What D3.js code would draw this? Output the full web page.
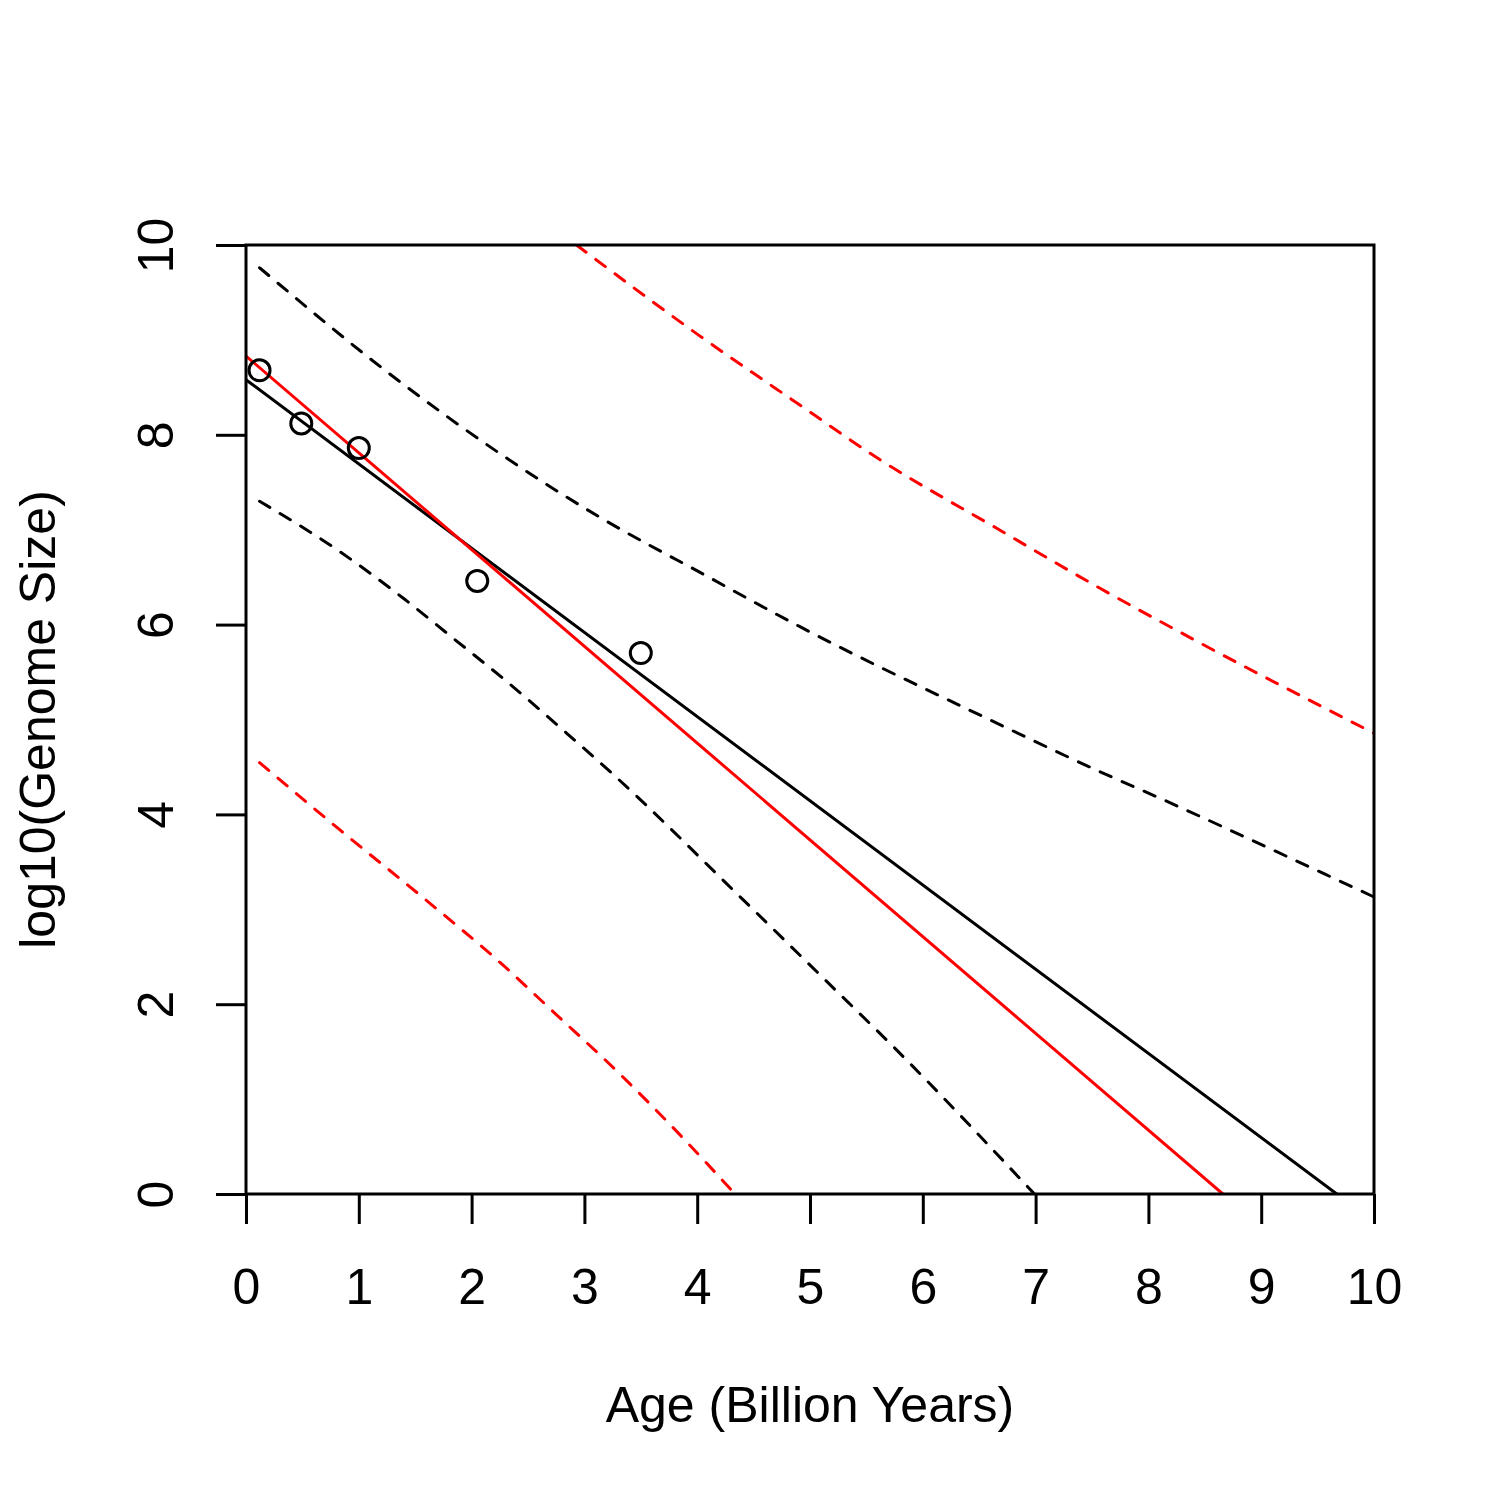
<!DOCTYPE html>
<html>
<head>
<meta charset="utf-8">
<script src="https://cdn.jsdelivr.net/npm/d3@7"></script>
<style>
	body { margin: 0; background: #fff; }
	text { font-family: "Liberation Sans", Arial, sans-serif; fill: #000; }
</style>
</head>
<body>
<svg width="1500" height="1500"></svg>
<script>
// Genome size vs age: observed points, two fits and their bands

var x_ticks = [0, 1, 2, 3, 4, 5, 6, 7, 8, 9, 10];
var y_ticks = [0, 2, 4, 6, 8, 10];

// observed points
var obs_age = [0.12, 0.49, 1.0, 2.05, 3.5];
var obs_size = [8.68, 8.12, 7.86, 6.46, 5.70];

// black fit line and its dashed band
var fit_black_x = [0, 9.67];
var fit_black_y = [8.58, 0];
var band_black_hi_x = [0.12, 1.365, 3.153, 4.025, 4.911, 6.566, 7.571, 8.103, 9.566, 10];
var band_black_hi_y = [9.76, 8.559, 7.12, 6.55, 5.978, 5.013, 4.45, 4.17, 3.37, 3.13];
var band_black_lo_x = [0.12, 0.833, 1.395, 1.838, 2.296, 2.843, 3.256, 4.379, 5.148, 5.739, 6.99];
var band_black_lo_y = [7.30, 6.768, 6.277, 5.855, 5.416, 4.855, 4.42, 3.133, 2.24, 1.552, 0];

// red fit line and its dashed band
var fit_red_x = [0, 8.66];
var fit_red_y = [8.83, 0];
var band_red_hi_x = [2.93, 4.025, 4.91, 5.608, 6.655, 7.571, 8.398, 10];
var band_red_hi_y = [10.0, 9.04, 8.314, 7.747, 7.015, 6.383, 5.845, 4.855];
var band_red_lo_x = [0.12, 0.833, 1.572, 2.252, 2.724, 3.31, 3.85, 4.335];
var band_red_lo_y = [4.545, 3.836, 3.12, 2.44, 1.92, 1.27, 0.62, 0];


function zip(xs, ys){
	return xs.map((v, i) => ({x: v, y: ys[i]}));
}

function draw(){
	var svg_handle = d3.select("svg");
	var left = 246, top = 245, right = 1374, bottom = 1194;
	var font_px = 50;

	var x = d3.scaleLinear().domain([0, 10]).range([left, right]);
	var y = d3.scaleLinear().domain([0, 10]).range([bottom, top]);

	svg_handle.append("clipPath")
		.attr("id", "plot_clip")
		.append("rect")
		.attr("x", left).attr("y", top)
		.attr("width", right - left).attr("height", bottom - top);

	var plot = svg_handle.append("g")
		.attr("clip-path", "url(#plot_clip)");

	var line = d3.line()
		.x(d => x(d.x))
		.y(d => y(d.y))
		.curve(d3.curveMonotoneX);

	var series = [
		{data: zip(band_red_hi_x, band_red_hi_y), color: "#ff0000", dash: true},
		{data: zip(band_red_lo_x, band_red_lo_y), color: "#ff0000", dash: true},
		{data: zip(band_black_hi_x, band_black_hi_y), color: "#000", dash: true},
		{data: zip(band_black_lo_x, band_black_lo_y), color: "#000", dash: true},
		{data: zip(fit_black_x, fit_black_y), color: "#000", dash: false},
		{data: zip(fit_red_x, fit_red_y), color: "#ff0000", dash: false}
	];

	plot.selectAll("path.series")
		.data(series)
		.enter().append("path")
		.attr("class", "series")
		.attr("d", s => line(s.data))
		.attr("fill", "none")
		.attr("stroke", s => s.color)
		.attr("stroke-width", 3)
		.attr("stroke-linecap", "round")
		.attr("stroke-dasharray", s => s.dash ? "12,12" : null);

	plot.selectAll("circle")
		.data(zip(obs_age, obs_size))
		.enter().append("circle")
		.attr("cx", d => x(d.x))
		.attr("cy", d => y(d.y))
		.attr("r", 10.5)
		.attr("fill", "none")
		.attr("stroke", "#000")
		.attr("stroke-width", 3);

	// axes, R style
	var x_axis = svg_handle.append("g")
		.attr("transform", "translate(0," + bottom + ")")
		.call(d3.axisBottom(x).tickValues(x_ticks).tickSize(30).tickSizeOuter(0).tickFormat(d3.format("d")));
	x_axis.select(".domain").remove();
	x_axis.selectAll("line").attr("stroke", "#000").attr("stroke-width", 3);
	x_axis.selectAll("text")
		.attr("y", 110)
		.attr("dy", null)
		.attr("font-size", font_px)
		.attr("font-family", null);

	var y_axis = svg_handle.append("g")
		.attr("transform", "translate(" + left + ",0)")
		.call(d3.axisLeft(y).tickValues(y_ticks).tickSize(30).tickSizeOuter(0).tickFormat(d3.format("d")));
	y_axis.select(".domain").remove();
	y_axis.selectAll("line").attr("stroke", "#000").attr("stroke-width", 3);
	y_axis.selectAll("text")
		.attr("x", 0)
		.attr("y", -73)
		.attr("dy", null)
		.attr("transform", "rotate(-90)")
		.attr("text-anchor", "middle")
		.attr("font-size", font_px)
		.attr("font-family", null);

	svg_handle.append("rect")
		.attr("x", left).attr("y", top)
		.attr("width", right - left).attr("height", bottom - top)
		.attr("fill", "none")
		.attr("stroke", "#000")
		.attr("stroke-width", 3);

	svg_handle.append("text")
		.attr("x", (left + right) / 2)
		.attr("y", 1422)
		.attr("text-anchor", "middle")
		.attr("font-size", font_px)
		.text("Age (Billion Years)");

	svg_handle.append("text")
		.attr("transform", "translate(55," + ((top + bottom) / 2) + ") rotate(-90)")
		.attr("text-anchor", "middle")
		.attr("font-size", font_px)
		.text("log10(Genome Size)");
}

draw();
</script>
</body>
</html>
